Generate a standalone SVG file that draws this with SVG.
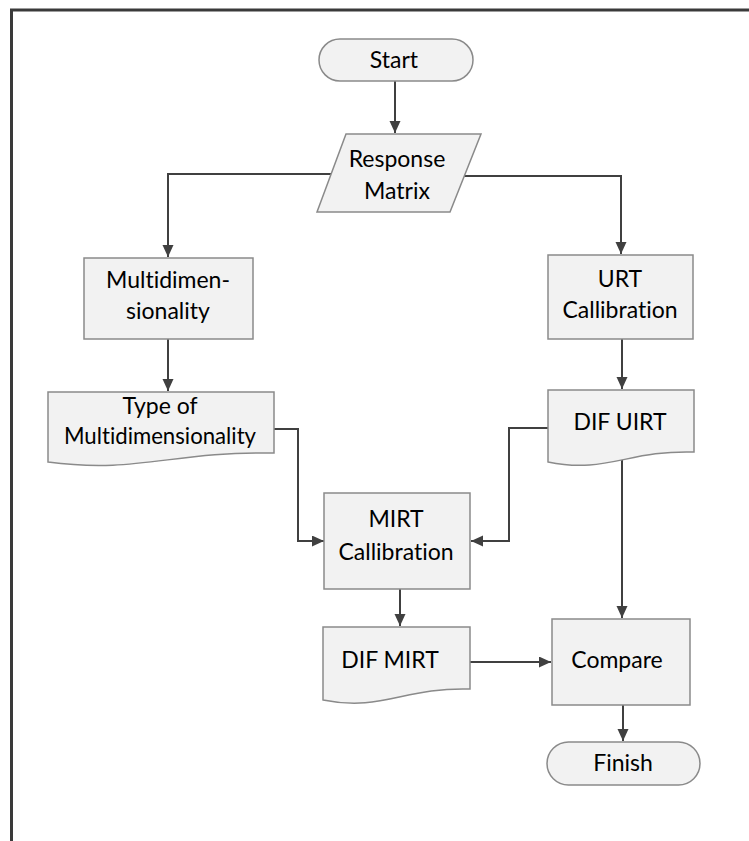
<svg xmlns="http://www.w3.org/2000/svg" width="749" height="841" viewBox="0 0 749 841">
<defs>
<marker id="arr" markerUnits="userSpaceOnUse" markerWidth="13" markerHeight="12" refX="12" refY="5.5" orient="auto">
<path d="M0,0 L12,5.5 L0,11 Z" fill="#404040"/>
</marker>
<style>
.node{fill:#f2f2f2;stroke:#8a8a8a;stroke-width:1.5}
.conn{fill:none;stroke:#404040;stroke-width:2;marker-end:url(#arr)}
.lbl{font-family:Lato,"Liberation Sans",sans-serif;font-size:23px;fill:#000;text-anchor:middle;font-variant-ligatures:none;font-feature-settings:"liga" 0}
</style>
</defs>
<rect width="749" height="841" fill="#fff"/>
<path d="M11.5,841 V10 H749" fill="none" stroke="#3a3a3a" stroke-width="3"/>
<g id="connectors">
<path class="conn" d="M395,81 V133"/>
<path class="conn" d="M331,174 H168 V257"/>
<path class="conn" d="M464,176 H621 V254"/>
<path class="conn" d="M168,339 V391"/>
<path class="conn" d="M622,339 V389"/>
<path class="conn" d="M274,429 H298 V541 H324"/>
<path class="conn" d="M548,428 H509 V541 H471"/>
<path class="conn" d="M622,455 V618"/>
<path class="conn" d="M400,589 V626"/>
<path class="conn" d="M470,662 H551"/>
<path class="conn" d="M623,705 V741"/>
</g>
<g id="start">
<rect class="node" x="319" y="39" width="154" height="42" rx="21"/>
<text class="lbl" x="394" y="68">Start</text>
</g>
<g id="response-matrix">
<polygon class="node" points="346,134 481,134 450,212 317,212"/>
<text class="lbl" x="397" y="167">Response</text>
<text class="lbl" x="397" y="199">Matrix</text>
</g>
<g id="multidimensionality">
<rect class="node" x="84" y="258" width="169" height="81"/>
<text class="lbl" x="168" y="288">Multidimen-</text>
<text class="lbl" x="168" y="319">sionality</text>
</g>
<g id="urt-calibration">
<rect class="node" x="548" y="255" width="145" height="84"/>
<text class="lbl" x="620" y="287">URT</text>
<text class="lbl" x="620" y="318">Callibration</text>
</g>
<g id="type-of-multidimensionality">
<path class="node" d="M48,392 H274 V453 C172,451 138,474 48,462 Z"/>
<text class="lbl" x="160" y="414">Type of</text>
<text class="lbl" x="160" y="444" textLength="192" lengthAdjust="spacingAndGlyphs">Multidimensionality</text>
</g>
<g id="dif-uirt">
<path class="node" d="M548,390 H694 V452 C628,450 606,474 548,462 Z"/>
<text class="lbl" x="620" y="430">DIF UIRT</text>
</g>
<g id="mirt-calibration">
<rect class="node" x="324" y="493" width="146" height="96"/>
<text class="lbl" x="396" y="527">MIRT</text>
<text class="lbl" x="396" y="560">Callibration</text>
</g>
<g id="dif-mirt">
<path class="node" d="M323,627 H470 V689 C404,687 382,712 323,700 Z"/>
<text class="lbl" x="390" y="668">DIF MIRT</text>
</g>
<g id="compare">
<rect class="node" x="552" y="619" width="138" height="86"/>
<text class="lbl" x="617" y="668">Compare</text>
</g>
<g id="finish">
<rect class="node" x="547" y="742" width="153" height="43" rx="21.5"/>
<text class="lbl" x="623" y="771">Finish</text>
</g>
</svg>
